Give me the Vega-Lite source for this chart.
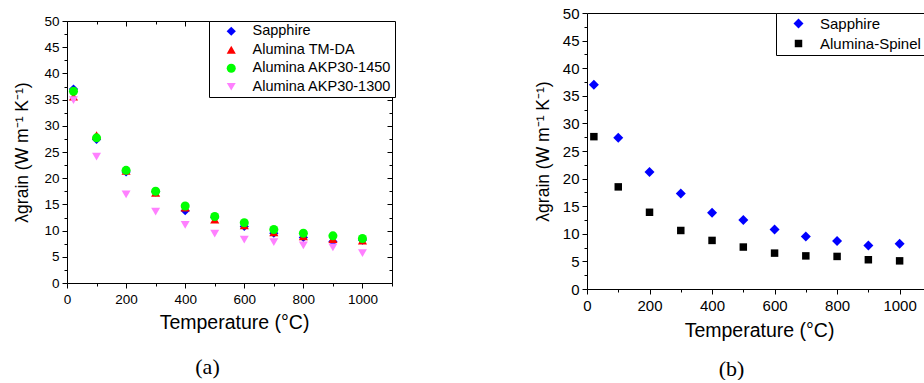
{
  "$schema": "https://vega.github.io/schema/vega-lite/v6.json",
  "padding": {"left": 13, "top": 6, "right": 0, "bottom": 0},
  "spacing": 138,
  "config": {
    "font": "Liberation Sans",
    "view": {"stroke": null},
    "axis": {"domainColor": "black", "tickColor": "black", "labelColor": "black", "titleColor": "black", "grid": false, "titleFontWeight": "normal", "labelOverlap": false, "labelFlush": false, "domainWidth": 1, "tickWidth": 1}
  },
  "datasets": {
    "a": [
      {"s": "Sapphire", "T": 22, "k": 37.0}, {"s": "Sapphire", "T": 100, "k": 27.4}, {"s": "Sapphire", "T": 200, "k": 21.2}, {"s": "Sapphire", "T": 300, "k": 17.4}, {"s": "Sapphire", "T": 400, "k": 13.8}, {"s": "Sapphire", "T": 500, "k": 12.5}, {"s": "Sapphire", "T": 600, "k": 10.8}, {"s": "Sapphire", "T": 700, "k": 9.5}, {"s": "Sapphire", "T": 800, "k": 8.7}, {"s": "Sapphire", "T": 900, "k": 7.9}, {"s": "Sapphire", "T": 1000, "k": 8.2},
      {"s": "Alumina TM-DA", "T": 22, "k": 35.6}, {"s": "Alumina TM-DA", "T": 100, "k": 28.2}, {"s": "Alumina TM-DA", "T": 200, "k": 21.4}, {"s": "Alumina TM-DA", "T": 300, "k": 17.2}, {"s": "Alumina TM-DA", "T": 400, "k": 14.4}, {"s": "Alumina TM-DA", "T": 500, "k": 12.1}, {"s": "Alumina TM-DA", "T": 600, "k": 11.0}, {"s": "Alumina TM-DA", "T": 700, "k": 9.7}, {"s": "Alumina TM-DA", "T": 800, "k": 8.9}, {"s": "Alumina TM-DA", "T": 900, "k": 8.4}, {"s": "Alumina TM-DA", "T": 1000, "k": 8.1},
      {"s": "Alumina AKP30-1450", "T": 22, "k": 36.6}, {"s": "Alumina AKP30-1450", "T": 100, "k": 27.7}, {"s": "Alumina AKP30-1450", "T": 200, "k": 21.5}, {"s": "Alumina AKP30-1450", "T": 300, "k": 17.5}, {"s": "Alumina AKP30-1450", "T": 400, "k": 14.7}, {"s": "Alumina AKP30-1450", "T": 500, "k": 12.7}, {"s": "Alumina AKP30-1450", "T": 600, "k": 11.5}, {"s": "Alumina AKP30-1450", "T": 700, "k": 10.2}, {"s": "Alumina AKP30-1450", "T": 800, "k": 9.5}, {"s": "Alumina AKP30-1450", "T": 900, "k": 9.0}, {"s": "Alumina AKP30-1450", "T": 1000, "k": 8.5},
      {"s": "Alumina AKP30-1300", "T": 22, "k": 34.9}, {"s": "Alumina AKP30-1300", "T": 100, "k": 24.1}, {"s": "Alumina AKP30-1300", "T": 200, "k": 16.9}, {"s": "Alumina AKP30-1300", "T": 300, "k": 13.6}, {"s": "Alumina AKP30-1300", "T": 400, "k": 11.1}, {"s": "Alumina AKP30-1300", "T": 500, "k": 9.4}, {"s": "Alumina AKP30-1300", "T": 600, "k": 8.3}, {"s": "Alumina AKP30-1300", "T": 700, "k": 7.8}, {"s": "Alumina AKP30-1300", "T": 800, "k": 7.2}, {"s": "Alumina AKP30-1300", "T": 900, "k": 6.8}, {"s": "Alumina AKP30-1300", "T": 1000, "k": 5.7}
    ],
    "b": [
      {"s": "Sapphire", "T": 22, "k": 37.0}, {"s": "Sapphire", "T": 100, "k": 27.4}, {"s": "Sapphire", "T": 200, "k": 21.2}, {"s": "Sapphire", "T": 300, "k": 17.3}, {"s": "Sapphire", "T": 400, "k": 13.8}, {"s": "Sapphire", "T": 500, "k": 12.5}, {"s": "Sapphire", "T": 600, "k": 10.8}, {"s": "Sapphire", "T": 700, "k": 9.5}, {"s": "Sapphire", "T": 800, "k": 8.7}, {"s": "Sapphire", "T": 900, "k": 7.9}, {"s": "Sapphire", "T": 1000, "k": 8.2},
      {"s": "Alumina-Spinel", "T": 22, "k": 27.6}, {"s": "Alumina-Spinel", "T": 100, "k": 18.5}, {"s": "Alumina-Spinel", "T": 200, "k": 13.9}, {"s": "Alumina-Spinel", "T": 300, "k": 10.6}, {"s": "Alumina-Spinel", "T": 400, "k": 8.8}, {"s": "Alumina-Spinel", "T": 500, "k": 7.6}, {"s": "Alumina-Spinel", "T": 600, "k": 6.5}, {"s": "Alumina-Spinel", "T": 700, "k": 6.0}, {"s": "Alumina-Spinel", "T": 800, "k": 5.9}, {"s": "Alumina-Spinel", "T": 900, "k": 5.3}, {"s": "Alumina-Spinel", "T": 1000, "k": 5.1}
    ]
  },
  "hconcat": [
    {
      "width": 325,
      "height": 270,
      "data": {"name": "a"},
      "title": {"text": "(a)", "orient": "bottom", "font": "Liberation Serif", "fontSize": 22, "fontWeight": "normal", "color": "black", "frame": "group", "anchor": "middle", "offset": 25, "dx": -22},
      "layer": [
        {
          "mark": {"type": "point", "filled": true, "opacity": 1, "strokeWidth": 0},
          "encoding": {
            "x": {"field": "T", "type": "quantitative", "scale": {"domain": [0, 1100], "nice": false, "zero": false},
              "axis": {"orient": "bottom", "title": "Temperature (°C)", "titleFontSize": 19.5, "titlePadding": 8, "titleX": 167, "labelFontSize": 13.5, "labelPadding": 4, "format": "d",
                "values": [0, 100, 200, 300, 400, 500, 600, 700, 800, 900, 1000, 1100],
                "labelExpr": "datum.value % 200 === 0 && datum.value <= 1000 ? datum.label : ''",
                "tickSize": {"condition": {"test": "datum.value % 200 !== 0", "value": 3}, "value": 5}}},
            "y": {"field": "k", "type": "quantitative", "scale": {"domain": [0, 50], "nice": false, "range": [270, 8]},
              "axis": {"orient": "left", "title": "λgrain (W m⁻¹ K⁻¹)", "titleFontSize": 17.5, "titlePadding": 12, "titleY": 139, "labelFontSize": 13.5, "labelPadding": 3,
                "values": [0, 2.5, 5, 7.5, 10, 12.5, 15, 17.5, 20, 22.5, 25, 27.5, 30, 32.5, 35, 37.5, 40, 42.5, 45, 47.5, 50],
                "labelExpr": "datum.value % 5 === 0 ? datum.label : ''",
                "tickSize": {"condition": {"test": "datum.value % 5 !== 0", "value": 3}, "value": 5}}},
            "color": {"field": "s", "type": "nominal",
              "scale": {"domain": ["Sapphire", "Alumina TM-DA", "Alumina AKP30-1450", "Alumina AKP30-1300"], "range": ["#0000ff", "#ff0000", "#00ff00", "#ff80ff"]},
              "legend": {"title": null, "orient": "none", "legendX": 142, "legendY": 8, "padding": 3, "strokeColor": "black", "fillColor": "white", "labelFontSize": 14.5, "labelFont": "Liberation Sans", "labelColor": "black", "symbolSize": 70, "symbolOffset": 12, "labelOffset": 14, "rowPadding": 3.5, "labelLimit": 400}},
            "shape": {"field": "s", "type": "nominal",
              "scale": {"domain": ["Sapphire", "Alumina TM-DA", "Alumina AKP30-1450", "Alumina AKP30-1300"], "range": ["diamond", "triangle-up", "circle", "triangle-down"]},
              "legend": {"title": null, "orient": "none", "legendX": 142, "legendY": 8, "padding": 3, "strokeColor": "black", "fillColor": "white", "labelFontSize": 14.5, "labelFont": "Liberation Sans", "labelColor": "black", "symbolSize": 70, "symbolOffset": 12, "labelOffset": 14, "rowPadding": 3.5, "labelLimit": 400}},
            "size": {"field": "s", "type": "nominal", "scale": {"domain": ["Sapphire", "Alumina TM-DA", "Alumina AKP30-1450", "Alumina AKP30-1300"], "range": [85, 80, 60, 85]}, "legend": null}
          }
        },
        {
          "mark": {"type": "point", "opacity": 0},
          "encoding": {
            "x": {"field": "T", "type": "quantitative",
              "axis": {"orient": "top", "title": null, "labels": false, "offset": -8, "minExtent": 0, "maxExtent": 0,
                "values": [0, 100, 200, 300, 400, 500, 600, 700, 800, 900, 1000, 1100],
                "tickSize": {"condition": {"test": "datum.value % 200 !== 0", "value": -3}, "value": -5}}},
            "y": {"field": "k", "type": "quantitative",
              "axis": {"orient": "right", "title": null, "labels": false, "minExtent": 0, "maxExtent": 0,
                "values": [0, 2.5, 5, 7.5, 10, 12.5, 15, 17.5, 20, 22.5, 25, 27.5, 30, 32.5, 35, 37.5, 40, 42.5, 45, 47.5, 50],
                "tickSize": {"condition": {"test": "datum.value % 5 !== 0", "value": -3}, "value": -5}}}
          }
        }
      ],
      "resolve": {"axis": {"x": "independent", "y": "independent"}}
    },
    {
      "width": 337,
      "height": 276,
      "data": {"name": "b"},
      "title": {"text": "(b)", "orient": "bottom", "font": "Liberation Serif", "fontSize": 22, "fontWeight": "normal", "color": "black", "frame": "group", "anchor": "middle", "offset": 19, "dx": -24},
      "layer": [
        {
          "mark": {"type": "point", "filled": true, "opacity": 1, "strokeWidth": 0},
          "encoding": {
            "x": {"field": "T", "type": "quantitative", "scale": {"domain": [0, 1078], "nice": false, "zero": false},
              "axis": {"orient": "bottom", "title": "Temperature (°C)", "titleFontSize": 19.5, "titlePadding": 8, "titleX": 172, "labelFontSize": 15, "labelPadding": 4, "format": "d",
                "values": [0, 100, 200, 300, 400, 500, 600, 700, 800, 900, 1000],
                "labelExpr": "datum.value % 200 === 0 ? datum.label : ''",
                "tickSize": {"condition": {"test": "datum.value % 200 !== 0", "value": 3}, "value": 5}}},
            "y": {"field": "k", "type": "quantitative", "scale": {"domain": [0, 50], "nice": false},
              "axis": {"orient": "left", "title": "λgrain (W m⁻¹ K⁻¹)", "titleFontSize": 17.5, "titlePadding": 10, "labelFontSize": 15, "labelPadding": 3,
                "values": [0, 2.5, 5, 7.5, 10, 12.5, 15, 17.5, 20, 22.5, 25, 27.5, 30, 32.5, 35, 37.5, 40, 42.5, 45, 47.5, 50],
                "labelExpr": "datum.value % 5 === 0 ? datum.label : ''",
                "tickSize": {"condition": {"test": "datum.value % 5 !== 0", "value": 3}, "value": 5}}},
            "color": {"field": "s", "type": "nominal",
              "scale": {"domain": ["Sapphire", "Alumina-Spinel"], "range": ["#0000ff", "#000000"]},
              "legend": {"title": null, "orient": "top-right", "offset": 0, "padding": 3, "strokeColor": "black", "fillColor": "white", "labelFontSize": 15, "labelFont": "Liberation Sans", "labelColor": "black", "symbolSize": 80, "symbolOffset": 12, "labelOffset": 14, "rowPadding": 4, "labelLimit": 400}},
            "shape": {"field": "s", "type": "nominal",
              "scale": {"domain": ["Sapphire", "Alumina-Spinel"], "range": ["diamond", "square"]},
              "legend": {"title": null, "orient": "top-right", "offset": 0, "padding": 3, "strokeColor": "black", "fillColor": "white", "labelFontSize": 15, "labelFont": "Liberation Sans", "labelColor": "black", "symbolSize": 80, "symbolOffset": 12, "labelOffset": 14, "rowPadding": 4, "labelLimit": 400}},
            "size": {"field": "s", "type": "nominal", "scale": {"domain": ["Sapphire", "Alumina-Spinel"], "range": [100, 56]}, "legend": null}
          }
        },
        {
          "mark": {"type": "point", "opacity": 0},
          "encoding": {
            "x": {"field": "T", "type": "quantitative",
              "axis": {"orient": "top", "title": null, "labels": false, "ticks": false, "minExtent": 0, "maxExtent": 0}}
          }
        }
      ],
      "resolve": {"axis": {"x": "independent"}}
    }
  ],
  "resolve": {"scale": {"color": "independent", "shape": "independent", "size": "independent"}, "legend": {"color": "independent", "shape": "independent"}}
}
